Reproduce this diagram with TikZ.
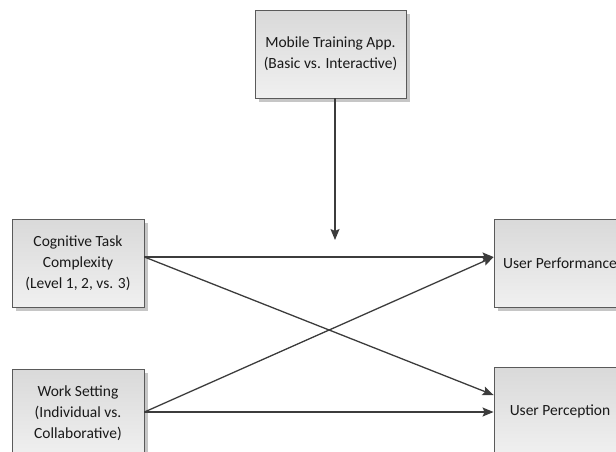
\documentclass[tikz,border=0pt]{standalone}
\usepackage{fontspec}
\setmainfont{Carlito}
\usetikzlibrary{arrows.meta,shadows}
\definecolor{boxline}{HTML}{5A5A5A}
\definecolor{arrowc}{HTML}{3C3C3C}
\definecolor{shadowc}{HTML}{C6C6C6}
\definecolor{fillTop}{HTML}{D9D9D9}
\definecolor{fillBot}{HTML}{F0F0F0}
\tikzset{
  varbox/.style={draw=boxline, line width=0.9pt, top color=fillTop, bottom color=fillBot,
    minimum width=132pt, minimum height=88pt, inner sep=2pt, align=center,
    text=black!90, font=\fontsize{15.5}{21}\selectfont,
    drop shadow={shadow xshift=3.5pt, shadow yshift=-3.5pt, fill=shadowc, opacity=1}},
  link/.style={draw=arrowc, line width=1.3pt,
    -{Stealth[length=11pt,width=9pt,inset=2pt]}}
}
\begin{document}
\begin{tikzpicture}[x=1pt,y=-1pt]
\useasboundingbox (0,0) rectangle (616,451);
\clip (0,0) rectangle (616,451);
\node[varbox, minimum width=151pt] (app) at (330.5,54) {Mobile Training App.\\(Basic vs. Interactive)};
\node[varbox] (cog) at (78,263) {Cognitive Task\\Complexity\\(Level 1, 2, vs. 3)};
\node[varbox] (work) at (78,413) {Work Setting\\(Individual vs.\\Collaborative)};
\node[varbox] (perf) at (560,263) {User Performance};
\node[varbox] (perc) at (560,411) {User Perception};
\coordinate (cogout) at ([yshift=6pt]cog.east);
\coordinate (workout) at ([yshift=1pt]work.east);
\coordinate (perfin) at ([yshift=6pt]perf.west);
\coordinate (percin1) at ([yshift=16pt]perc.west);
\coordinate (percin2) at ([yshift=-1pt]perc.west);
\coordinate (appout) at ([xshift=4.5pt]app.south);
\coordinate (modpt) at (335,240);
\draw[link] (appout) -- (modpt);
\draw[link] (cogout) -- (perfin);
\draw[link] (cogout) -- (percin1);
\draw[link] (workout) -- (perfin);
\draw[link] (workout) -- (percin2);
\end{tikzpicture}
\end{document}
